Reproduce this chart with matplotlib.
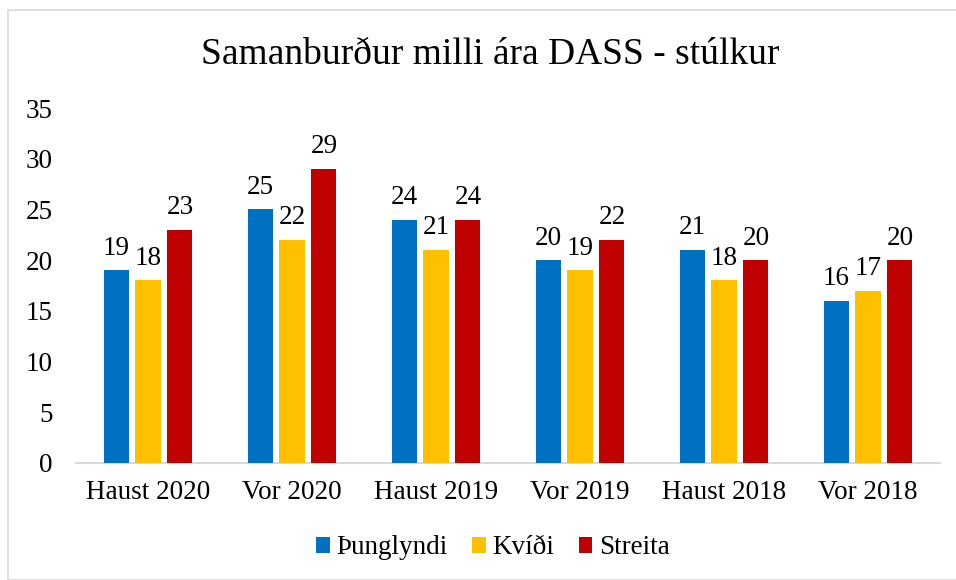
import matplotlib
matplotlib.use("Agg")
import matplotlib.pyplot as plt
import numpy as np
from matplotlib.patches import Rectangle

categories = ["Haust 2020", "Vor 2020", "Haust 2019", "Vor 2019", "Haust 2018", "Vor 2018"]
series_names = ["Þunglyndi", "Kvíði", "Streita"]
thunglyndi = [19, 25, 24, 20, 21, 16]
kvidi = [18, 22, 21, 19, 18, 17]
streita = [23, 29, 24, 22, 20, 20]
colors = ["#0070C0", "#FFC000", "#C00000"]
title = "Samanburður milli ára DASS - stúlkur"

plt.rcParams['font.family'] = ['Liberation Serif', 'DejaVu Serif']

fig = plt.figure(figsize=(9.56, 5.8), dpi=100)
W, H = 956, 580
ax = fig.add_axes([76 / W, 1 - 463 / H, 864 / W, (463 - 108) / H])

x = np.arange(len(categories))
off = 0.222
bw = 0.174
for i, (vals, name) in enumerate(zip([thunglyndi, kvidi, streita], series_names)):
    pos = x + (i - 1) * off
    ax.bar(pos, vals, width=bw, color=colors[i], label=name, zorder=3)
    for p, v in zip(pos, vals):
        ax.text(p, v + 0.95, str(v), ha="center", va="bottom", fontsize=19.5, color="#000000")

ax.set_xlim(-0.5, len(categories) - 0.5)
ax.set_ylim(0, 35)
ax.set_yticks(range(0, 36, 5))
ax.set_xticks(x)
ax.set_xticklabels(categories)
ax.tick_params(axis="both", length=0, labelsize=19.5, colors="#000000")
ax.tick_params(axis="y", pad=17)
ax.tick_params(axis="x", pad=12)
for s in ["top", "right", "left"]:
    ax.spines[s].set_visible(False)
ax.spines["bottom"].set_color("#D9D9D9")
ax.spines["bottom"].set_linewidth(1.5)

fig.text(490 / W, 1 - 55 / H, title, ha="center", va="center", fontsize=27)

fig.legend(loc="center", bbox_to_anchor=(493 / W, 1 - 548 / H), ncol=3, frameon=False,
           fontsize=19.5, handlelength=0.5, handleheight=0.5, handletextpad=0.25,
           columnspacing=0.9)

fig.patches.append(Rectangle((8 / W, 0), 1, 1 - 10 / H, transform=fig.transFigure,
                             fill=False, edgecolor="#D9D9D9", linewidth=1.2))

fig.savefig("out.png", dpi=100)
